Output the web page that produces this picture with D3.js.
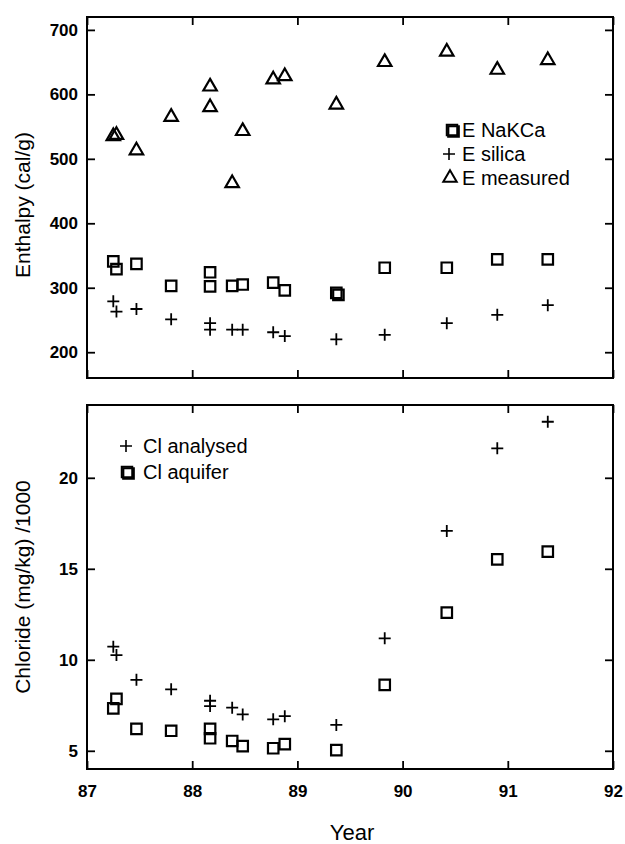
<!DOCTYPE html>
<html>
<head>
  <title>Enthalpy and chloride by year</title>
  <style>
    body { margin: 0; background: #fff; }
    svg text { font-family: "Liberation Sans", Arial, Helvetica, sans-serif; fill: #000; }
  </style>
  <script src="https://d3js.org/d3.v7.min.js"></script>
</head>
<body>
  <div id="chart"></div>

  <script>
    // sample dates (decimal years) shared by most series
    var years = [87.25, 87.28, 87.47, 87.8, 88.17, 88.17, 88.38, 88.48, 88.77, 88.88, 89.37, 89.83, 90.42, 90.9, 91.38];
    var nakcaYears = [87.25, 87.28, 87.47, 87.8, 88.17, 88.17, 88.38, 88.48, 88.77, 88.88, 89.37, 89.39, 89.83, 90.42, 90.9, 91.38];

    // top panel, enthalpy (cal/g)
    var eMeasured = [535, 537, 513, 565, 612, 580, 462, 543, 623, 628, 584, 650, 666, 638, 653];
    var eNaKCa = [341, 329, 337, 303, 324, 302, 303, 305, 308, 296, 292, 289, 331, 331, 344, 344];
    var eSilica = [279, 263, 267, 251, 245, 235, 235, 235, 231, 225, 220, 227, 245, 258, 273];

    // bottom panel, chloride (mg/kg)/1000
    var clAnalysed = [10.72, 10.26, 8.9, 8.38, 7.75, 7.46, 7.37, 7.0, 6.73, 6.9, 6.42, 11.18, 17.08, 21.62, 23.08];
    var clAquifer = [7.33, 7.85, 6.2, 6.1, 6.2, 5.69, 5.54, 5.26, 5.14, 5.37, 5.04, 8.62, 12.59, 15.52, 15.94];

    var xTicks = [87, 88, 89, 90, 91, 92];
    var topTicks = [200, 300, 400, 500, 600, 700];
    var bottomTicks = [5, 10, 15, 20];

    var W = 625, H = 844;
    var left = 87, right = 613;

    var svg = d3.select("#chart").append("svg")
      .attr("width", W)
      .attr("height", H);

    var x = d3.scaleLinear().domain([87, 92]).range([left, right]);
    var yTop = d3.scaleLinear().domain([160, 720]).range([378, 17]);
    var yBot = d3.scaleLinear().domain([4, 24]).range([769, 405]);

    var tickLen = 8;

    function styleLabels(sel) {
      sel.selectAll("text")
        .style("font-size", "17px")
        .style("font-weight", "bold")
        .style("font-family", "'Liberation Sans', Arial, sans-serif");
    }

    function panel(y, yticks, showX) {
      var top = y.range()[1], bottom = y.range()[0];
      var g = svg.append("g");

      // left axis with labels, ticks pointing inward
      var la = g.append("g")
        .attr("transform", "translate(" + left + ",0)")
        .call(d3.axisLeft(y).tickValues(yticks).tickSizeInner(-tickLen).tickSizeOuter(0).tickPadding(9));
      la.select(".domain").remove();
      styleLabels(la);

      // right axis, ticks only
      var ra = g.append("g")
        .attr("transform", "translate(" + right + ",0)")
        .call(d3.axisRight(y).tickValues(yticks).tickSizeInner(-tickLen).tickSizeOuter(0).tickFormat(""));
      ra.select(".domain").remove();

      // top axis, ticks only
      var ta = g.append("g")
        .attr("transform", "translate(0," + top + ")")
        .call(d3.axisTop(x).tickValues(xTicks).tickSizeInner(-tickLen).tickSizeOuter(0).tickFormat(""));
      ta.select(".domain").remove();

      // bottom axis
      var ba = g.append("g")
        .attr("transform", "translate(0," + bottom + ")")
        .call(d3.axisBottom(x).tickValues(xTicks).tickSizeInner(-tickLen).tickSizeOuter(0)
          .tickPadding(16).tickFormat(showX ? d3.format("d") : ""));
      ba.select(".domain").remove();
      styleLabels(ba);

      g.selectAll(".tick line").attr("stroke", "#000").attr("stroke-width", 1.8);

      // frame
      g.append("rect")
        .attr("x", left).attr("y", top)
        .attr("width", right - left).attr("height", bottom - top)
        .attr("fill", "none").attr("stroke", "#000").attr("stroke-width", 2);
      return g;
    }

    var gTop = panel(yTop, topTicks, false);
    var gBot = panel(yBot, bottomTicks, true);

    var triPath = d3.symbol().type(d3.symbolTriangle).size(78)();
    var sqPath = d3.symbol().type(d3.symbolSquare).size(110)();
    var plusPath = "M-6,0H6M0,-6V6";

    function marks(g, xs, vals, y, path, cls) {
      g.selectAll("path." + cls)
        .data(vals)
        .enter().append("path")
        .attr("class", cls)
        .attr("d", path)
        .attr("transform", function(d, i) { return "translate(" + x(xs[i]) + "," + y(d) + ")"; })
        .attr("fill", "none")
        .attr("stroke", "#000")
        .attr("stroke-width", cls === "plus" ? 1.8 : 2.2);
    }

    marks(gTop, years, eMeasured, yTop, triPath, "tri");
    marks(gTop, nakcaYears, eNaKCa, yTop, sqPath, "sq");
    marks(gTop, years, eSilica, yTop, plusPath, "plus");

    marks(gBot, years, clAnalysed, yBot, plusPath, "plus");
    marks(gBot, years, clAquifer, yBot, sqPath, "sq");

    // legends
    function legendItem(g, sx, tx, ty, path, label, doubled) {
      if (doubled) {
        g.append("path").attr("d", sqPath).attr("transform", "translate(" + (sx + 1.5) + "," + (ty + 1.5) + ")")
          .attr("fill", "none").attr("stroke", "#000").attr("stroke-width", 2.2);
      }
      g.append("path").attr("d", path).attr("transform", "translate(" + sx + "," + ty + ")")
        .attr("fill", "none").attr("stroke", "#000").attr("stroke-width", path === plusPath ? 1.6 : 2);
      g.append("text").attr("x", tx).attr("y", ty).attr("dy", "0.36em")
        .style("font-size", "20px").text(label);
    }

    legendItem(gTop, 452, 462, 130, sqPath, "E NaKCa", true);
    legendItem(gTop, 449, 462, 154, plusPath, "E silica", false);
    legendItem(gTop, 450, 462, 178, triPath, "E measured", false);

    legendItem(gBot, 126, 143, 446, plusPath, "Cl analysed", false);
    legendItem(gBot, 127, 143, 472, sqPath, "Cl aquifer", true);

    // axis titles
    svg.append("text")
      .attr("transform", "translate(30,205) rotate(-90)")
      .attr("text-anchor", "middle")
      .style("font-size", "21px")
      .text("Enthalpy (cal/g)");

    svg.append("text")
      .attr("transform", "translate(30,587) rotate(-90)")
      .attr("text-anchor", "middle")
      .style("font-size", "21px")
      .text("Chloride (mg/kg) /1000");

    svg.append("text")
      .attr("x", 352).attr("y", 840)
      .attr("text-anchor", "middle")
      .style("font-size", "22px")
      .text("Year");
  </script>
</body>
</html>
